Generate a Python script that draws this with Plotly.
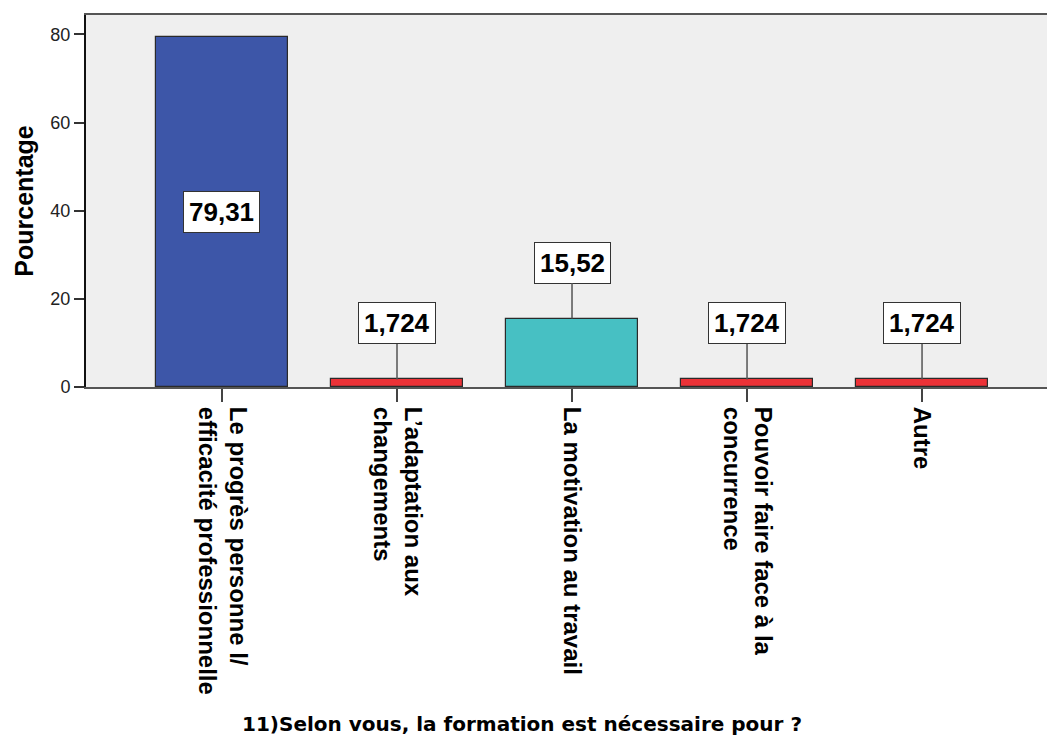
import plotly.graph_objects as go

categories = [
    "Le progrès personne l/<br>efficacité professionnelle",
    "L’adaptation aux<br>changements",
    "La motivation au travail",
    "Pouvoir faire face à la<br>concurrence",
    "Autre",
]
values = [79.31, 1.724, 15.52, 1.724, 1.724]
value_labels = ["79,31", "1,724", "15,52", "1,724", "1,724"]
bar_colors = ["#3D56A8", "#EC3237", "#47C0C3", "#EC3237", "#EC3237"]
y_ticks = [0, 20, 40, 60, 80]
x_title = "11)Selon vous, la formation est nécessaire pour ?"
y_title = "Pourcentage"

xs = list(range(len(categories)))

fig = go.Figure()
fig.add_trace(go.Bar(
    x=xs, y=values, width=0.75,
    marker=dict(color=bar_colors, line=dict(color="#2a2a2a", width=1.2)),
    hoverinfo="skip",
))

# value label boxes
for i, (v, lab) in enumerate(zip(values, value_labels)):
    common = dict(
        text=f"<b>{lab}</b>",
        bgcolor="white", bordercolor="#333", borderwidth=1, borderpad=5,
        font=dict(family="Liberation Sans, Arial", size=26, color="black"),
    )
    if v > 40:
        fig.add_annotation(x=i, y=v / 2, showarrow=False, **common)
    else:
        fig.add_annotation(
            x=i, y=v, showarrow=True,
            ax=0, ay=-56, arrowhead=0, arrowwidth=1.5, arrowcolor="#555",
            standoff=0, startstandoff=0, **common,
        )

# x axis title
fig.add_annotation(
    x=0.4537, xref="paper", y=-0.905, yref="paper", showarrow=False,
    text=f"<b>{x_title}</b>", xanchor="center", yanchor="middle",
    font=dict(family="DejaVu Sans", size=20, color="black"),
)

fig.update_layout(
    width=1047, height=749,
    margin=dict(l=86, r=0, t=15, b=362),
    paper_bgcolor="white", plot_bgcolor="#EFEFEF",
    showlegend=False,
    bargap=0,
)
fig.update_xaxes(
    range=[-0.777, 4.714], tickmode="array", tickvals=xs,
    ticktext=[f"<b>{c}</b>" for c in categories],
    tickangle=90, ticks="outside", ticklen=13, tickwidth=1.5, tickcolor="#444",
    tickfont=dict(family="Liberation Sans, Arial", size=24, color="black"),
    showline=True, linecolor="#555", linewidth=2, mirror=True,
    showgrid=False, zeroline=False,
)
fig.update_yaxes(
    range=[0, 84.4], tickmode="array", tickvals=y_ticks,
    ticks="outside", ticklen=10, tickwidth=1.5, tickcolor="#333",
    tickfont=dict(family="Liberation Sans, Arial", size=18, color="#222"),
    showline=True, linecolor="#111", linewidth=2,
    showgrid=False, zeroline=False,
    title=dict(text=f"<b>{y_title}</b>", standoff=10,
               font=dict(family="Liberation Sans, Arial", size=25, color="black")),
)

fig.write_html("out.html")
